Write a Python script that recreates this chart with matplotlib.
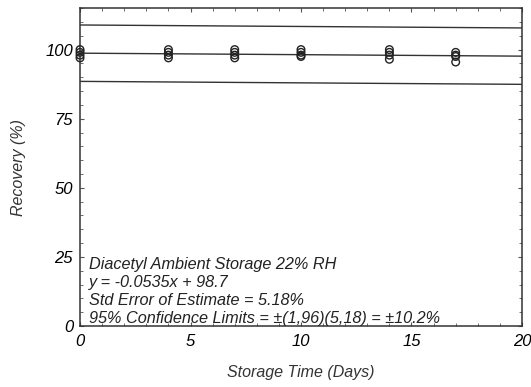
import matplotlib.pyplot as plt
from matplotlib.ticker import MultipleLocator

days = [0, 0, 0, 0, 4, 4, 4, 4, 7, 7, 7, 7, 10, 10, 10, 10, 14, 14, 14, 14, 17, 17, 17, 17]
recovery = [100, 99, 98, 97, 100, 99, 98, 97, 100, 99, 98, 97,
            100, 99, 98, 97.5, 100, 99, 98, 96.5, 99, 98, 97.5, 95.5]

# Regression fit and 95% limits
slope = -0.0535
intercept = 98.7
conf = 10.2
x_fit = [0, 20]

notes = ['Diacetyl Ambient Storage 22% RH',
         'y = -0.0535x + 98.7',
         'Std Error of Estimate = 5.18%',
         '95% Confidence Limits = \u00b1(1,96)(5,18) = \u00b110.2%']

plt.rcParams['font.family'] = ['Liberation Sans', 'DejaVu Sans']
plt.rcParams['font.style'] = 'italic'

fig = plt.figure(figsize=(5.31, 3.87), dpi=100)
ax = fig.add_axes([0.1507, 0.1576, 0.8323, 0.8214])

y_fit = [slope * x + intercept for x in x_fit]
ax.plot(x_fit, y_fit, color='#333333', lw=1.0)
ax.plot(x_fit, [y + conf for y in y_fit], color='#333333', lw=1.0)
ax.plot(x_fit, [y - conf for y in y_fit], color='#333333', lw=1.0)
ax.scatter(days, recovery, s=30, facecolors='none', edgecolors='#222222', linewidths=1.0, zorder=3, clip_on=False)

ax.set_xlim(0, 20)
ax.set_ylim(0, 115)
ax.xaxis.set_major_locator(MultipleLocator(5))
ax.xaxis.set_minor_locator(MultipleLocator(1))
ax.yaxis.set_major_locator(MultipleLocator(25))
ax.yaxis.set_minor_locator(MultipleLocator(5))
ax.tick_params(which='both', direction='in', top=True, right=True, color='#555555', labelsize=12)
ax.tick_params(which='major', length=3)
ax.tick_params(which='minor', length=2)
ax.tick_params(axis='x', pad=6)
ax.tick_params(axis='y', pad=5)
for lab in ax.get_xticklabels() + ax.get_yticklabels():
    lab.set_fontstyle('italic')
for s in ax.spines.values():
    s.set_color('#333333')
    s.set_linewidth(1.1)

ax.set_xlabel('Storage Time (Days)', fontsize=11.5, labelpad=11, color='#333333')
ax.set_ylabel('Recovery (%)', fontsize=11.5, labelpad=14, color='#333333')

for i, t in enumerate(notes):
    ax.text(0.4, 22.3 - i * 6.5, t, fontsize=11.7, va='center', ha='left', color='#222222')

fig.savefig('out.png', dpi=100)
